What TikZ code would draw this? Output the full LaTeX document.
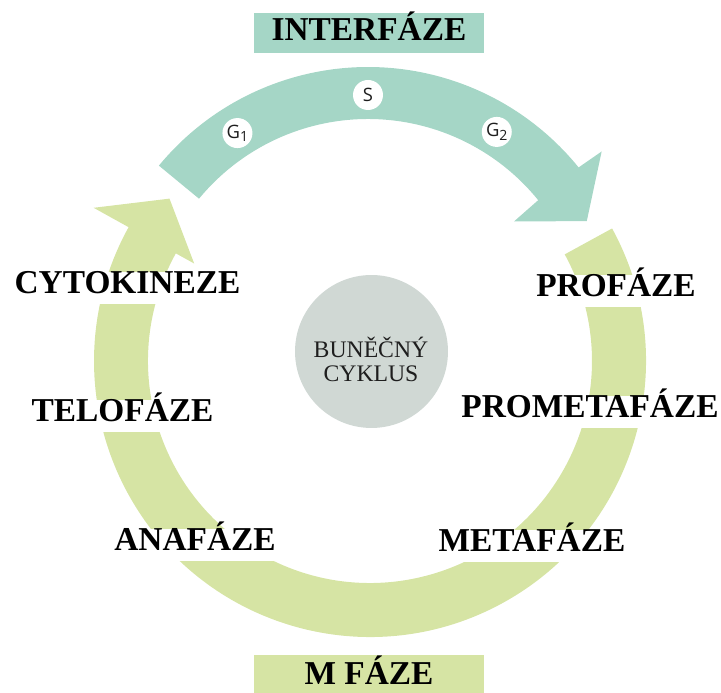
\documentclass[tikz,border=0pt]{standalone}
\usepackage{fontspec}
\setmainfont{Liberation Serif}
\setsansfont{Open Sans}
\usepackage{tikz}
\usetikzlibrary{calc}
\definecolor{cycteal}{HTML}{A5D6C6}
\definecolor{cycgreen}{HTML}{D6E4A4}
\definecolor{cycgray}{HTML}{D0D8D4}
\definecolor{cycdark}{HTML}{1E1E1E}
\newcommand{\stagesub}[2]{#1\raisebox{-0.35ex}{\fontsize{8}{8}\selectfont #2}}
\tikzset{
  phaselabel/.style={
    fill=white, text=black, inner xsep=2pt, inner ysep=0.21cm,
    text height=0.66em, text depth=0pt,
    font=\fontsize{19}{20}\selectfont\bfseries
  },
  phasebanner/.style={
    fill=#1, text=black, inner sep=0pt,
    minimum width=4.6cm, text depth=0pt,
    font=\fontsize{19}{20}\selectfont\bfseries
  },
  stagedot/.style={
    circle, fill=white, minimum size=0.6cm, inner sep=0pt,
    font=\sffamily\fontsize{10.5}{10.5}\selectfont, text=cycdark
  },
  cyclecore/.style={
    circle, fill=cycgray, minimum size=3.06cm, inner sep=0pt
  },
  coretext/.style={
    align=center, text=cycdark,
    font=\fontsize{13.5}{13.7}\selectfont
  }
}

\begin{document}
\begin{tikzpicture}[x=0.02cm, y=0.02cm]
  \useasboundingbox (0,0) rectangle (721,693);
  \coordinate (ci) at (368,355);
  \coordinate (cm) at (370,332);

  % M phase ring, ends in an arrow pointing at the interphase
  \fill[cycgreen] ($(cm)+(28.7:276)$)
    arc[start angle=28.7, end angle=-209, radius=276]
    -- ($(cm)+(151:316)$) -- ($(cm)+(141:258)$) -- ($(cm)+(151:201)$)
    -- ($(cm)+(151:222)$)
    arc[start angle=-209, end angle=28.7, radius=222] -- cycle;

  % interphase arc
  \fill[cycteal] ($(ci)+(140.5:271)$)
    arc[start angle=140.5, end angle=39, radius=271]
    -- ($(ci)+(38.6:299)$) -- ($(ci)+(28.1:248)$) -- ($(ci)+(38.6:187)$)
    -- ($(ci)+(39:219)$)
    arc[start angle=39, end angle=140.5, radius=219] -- cycle;

  \node[stagedot] (gone) at ($(ci)+(122.5:243)$) {\stagesub{G}{1}};
  \node[stagedot] (synth) at ($(ci)+(90:243)$) {S};
  \node[stagedot] (gtwo) at ($(ci)+(58:243)$) {\stagesub{G}{2}};

  \node[cyclecore] (core) at (371.5,341.5) {};
  \node[coretext] (corelabel) at (371,334) {BUNĚČNÝ\\CYKLUS};

  \node[phasebanner=cycteal, minimum height=0.8cm, text height=0.86em]
    (inter) at (369,660) {INTERFÁZE};
  \node[phasebanner=cycgreen, minimum height=0.96cm, text height=0.66em]
    (mphase) at (369,14) {M FÁZE};

  \node[phaselabel] (cyto)  at (127.5,405) {CYTOKINEZE};
  \node[phaselabel] (telo)  at (122.5,277) {TELOFÁZE};
  \node[phaselabel] (ana)   at (195,148)   {ANAFÁZE};
  \node[phaselabel] (pro)   at (616,402)   {PROFÁZE};
  \node[phaselabel] (prometa) at (590,281) {PROMETAFÁZE};
  \node[phaselabel] (meta)  at (532,147)   {METAFÁZE};
\end{tikzpicture}
\end{document}
